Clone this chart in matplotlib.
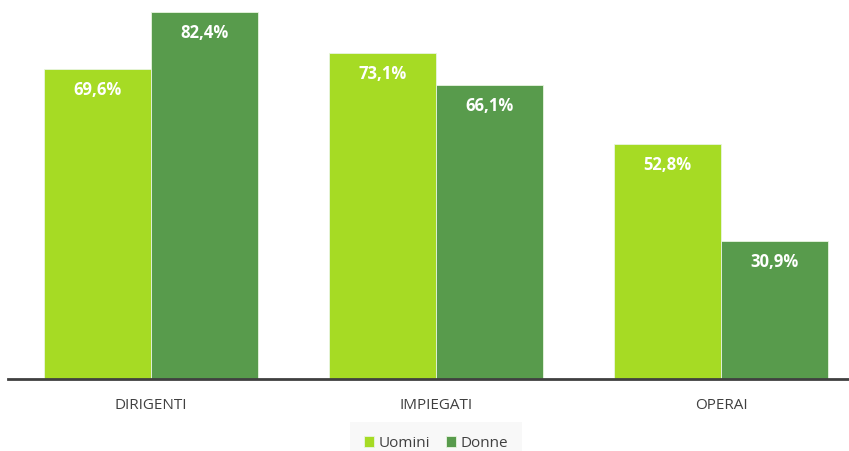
import matplotlib
matplotlib.use('Agg')
import matplotlib.pyplot as plt
import numpy as np

categories = ['DIRIGENTI', 'IMPIEGATI', 'OPERAI']
uomini = [69.6, 73.1, 52.8]
donne = [82.4, 66.1, 30.9]
series_names = ['Uomini', 'Donne']

plt.rcParams['font.family'] = ['Open Sans', 'DejaVu Sans']

fig = plt.figure(figsize=(8.49, 4.52), dpi=100)
ax = fig.add_axes([8/849, 72/452, 841/849, 380/452])

x = np.arange(len(categories))
w = 0.375
colors = ['#A6DB24', '#589B4C']

b1 = ax.bar(x - w/2, uomini, w, color=colors[0], edgecolor='#E8F5E0', linewidth=0.6, label=series_names[0])
b2 = ax.bar(x + w/2, donne, w, color=colors[1], edgecolor='#E8F5E0', linewidth=0.6, label=series_names[1])

for bars, vals in [(b1, uomini), (b2, donne)]:
    for bar, v in zip(bars, vals):
        ax.annotate(f'{v:.1f}%'.replace('.', ','),
                    xy=(bar.get_x() + bar.get_width()/2, v),
                    xytext=(0, -14.5), textcoords='offset points',
                    ha='center', va='center', color='white',
                    fontsize=12, fontweight='bold')

ax.set_xlim(-0.502, 2.449)
ax.set_ylim(0, 85.3)
ax.set_xticks(x)
ax.set_xticklabels(categories, fontsize=11, color='#404040')
ax.tick_params(axis='x', length=0, pad=13)
ax.set_yticks([])
for s in ['top', 'right', 'left']:
    ax.spines[s].set_visible(False)
ax.spines['bottom'].set_color('#404040')
ax.spines['bottom'].set_linewidth(2)

leg = fig.legend(loc='center', bbox_to_anchor=(436/849, 1 - 444/452), ncol=2,
                 frameon=True, fontsize=11, handlelength=0.7, handleheight=0.7,
                 handletextpad=0.3, columnspacing=1.0, borderpad=0.3)
leg.get_frame().set_facecolor('#F7F7F7')
leg.get_frame().set_edgecolor('none')
leg.get_frame().set_boxstyle('square', pad=0.6)
for t in leg.get_texts():
    t.set_color('#404040')

fig.savefig('out.png', dpi=100)
